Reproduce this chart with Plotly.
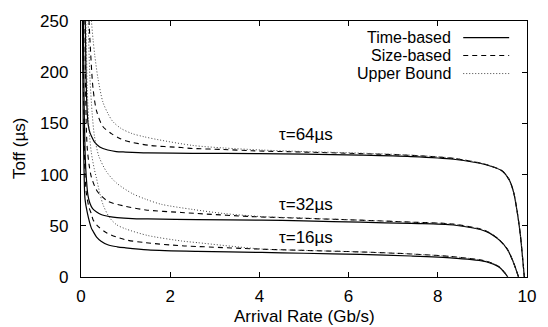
import plotly.graph_objects as go

# Arrival rate (Gb/s) samples and Toff (µs) for each coalescing scheme and tau
rate_t64_time = [0.09, 0.11, 0.13, 0.16, 0.2, 0.24, 0.3, 0.42, 0.6, 0.79, 1.0, 1.5, 2.5, 4.0, 5.0, 6.26, 7.4, 8.35, 9.08, 9.45, 9.6, 9.7, 9.78, 9.85, 9.9, 9.94]
toff_t64_time = [270, 205, 170, 149, 141, 137, 132, 127, 124, 122.5, 122, 121.2, 120.8, 120.5, 120, 119, 117.6, 115, 109.6, 103.3, 95, 82.7, 63.7, 41.5, 19.3, 0]

rate_t32_time = [0.05, 0.07, 0.09, 0.11, 0.155, 0.2, 0.26, 0.35, 0.45, 0.64, 0.81, 1.15, 1.5, 2.6, 4.05, 5.0, 6.26, 7.4, 8.35, 9.08, 9.38, 9.56, 9.67, 9.76, 9.81]
toff_t32_time = [260, 170, 125, 103, 80, 72, 66.8, 63.5, 61, 59, 58, 57, 56.7, 56, 55.5, 54.8, 53.5, 52.3, 50.8, 44.5, 36, 27, 17, 6.5, 0]

rate_t16_time = [0.03, 0.05, 0.07, 0.09, 0.14, 0.23, 0.27, 0.35, 0.45, 0.6, 0.81, 1.0, 1.5, 2.6, 4.05, 5.0, 6.26, 7.4, 8.35, 9.08, 9.38, 9.5, 9.57]
toff_t16_time = [260, 150, 100, 76, 63, 48, 44.7, 39, 35, 31.5, 29.5, 28.5, 26.5, 25, 24, 23.2, 22, 20.5, 18.5, 15, 9.5, 4, 0]

rate_t64_size = [0.17, 0.2, 0.27, 0.35, 0.49, 0.68, 0.86, 1.0, 1.52, 2.25, 2.51, 3.2, 3.83, 5.0, 6.26, 7.4, 8.35, 9.08, 9.45, 9.6, 9.7, 9.78, 9.85, 9.9, 9.94]
toff_t64_size = [260, 232, 184, 162, 147, 140, 135.5, 133, 128.6, 126.4, 125.5, 124.5, 123.3, 122, 120.5, 118.8, 115.8, 109.9, 103.4, 95.1, 82.8, 63.8, 41.5, 19.3, 0]

rate_t32_size = [0.085, 0.1, 0.12, 0.14, 0.18, 0.23, 0.36, 0.6, 1.0, 1.45, 2.25, 2.6, 3.83, 5.0, 6.26, 7.4, 8.35, 9.08, 9.38, 9.56, 9.67, 9.76, 9.81]
toff_t32_size = [260, 190, 145, 126, 110, 98, 84, 74, 69, 65.5, 63, 62, 59, 57.3, 55.5, 53.6, 51.6, 45, 36.3, 27.1, 17.1, 6.5, 0]

rate_t16_size = [0.045, 0.06, 0.075, 0.09, 0.12, 0.18, 0.23, 0.27, 0.37, 0.58, 0.98, 1.45, 2.25, 2.6, 4.05, 5.0, 6.26, 7.4, 8.35, 9.08, 9.38, 9.5, 9.57]
toff_t16_size = [260, 170, 125, 100, 82, 68, 62, 56, 50, 43, 36.5, 33.5, 30.5, 29.8, 27.2, 26, 24.5, 22.5, 19.8, 15.5, 9.8, 4.2, 0]

rate_t64_bound = [0.22, 0.235, 0.27, 0.31, 0.38, 0.49, 0.6, 0.71, 0.9, 1.15, 1.41, 1.74, 2.5, 3.2, 4.05, 5.0, 6.26, 7.4, 8.35, 9.08, 9.45, 9.6, 9.7, 9.78, 9.85, 9.9, 9.94]
toff_t64_bound = [262, 250, 232, 216, 194, 171, 160, 152, 145, 140, 137, 134, 128.5, 126, 124, 122.5, 121, 119, 116, 110, 103.5, 95.2, 83, 64, 41.5, 19.3, 0]

rate_t32_bound = [0.15, 0.16, 0.2, 0.25, 0.3, 0.4, 0.57, 0.79, 1.15, 1.45, 1.8, 2.5, 3.2, 4.05, 5.0, 6.26, 7.4, 8.35, 9.08, 9.38, 9.56, 9.67, 9.76, 9.81]
toff_t32_bound = [265, 250, 195, 160, 138, 118, 103, 92, 81.5, 76, 71, 66, 62, 59, 57.5, 55.5, 53.5, 51.5, 45, 36.5, 27, 17, 6.5, 0]

rate_t16_bound = [0.1, 0.11, 0.14, 0.18, 0.23, 0.3, 0.35, 0.42, 0.5, 0.64, 0.8, 1.0, 1.5, 2.25, 2.6, 4.05, 5.0, 6.26, 7.4, 8.35, 9.08, 9.38, 9.5, 9.57]
toff_t16_bound = [270, 250, 185, 145, 122, 105, 96, 82, 70, 58, 51, 47, 40.5, 35.2, 33.6, 27.3, 26, 24.5, 22.5, 19.8, 15.5, 9.8, 4.2, 0]

tau_labels = ["τ=64µs", "τ=32µs", "τ=16µs"]
tau_label_x = [5.05, 5.05, 5.05]
tau_label_y = [139, 71, 39]

legend_names = ["Time-based", "Size-based", "Upper Bound"]

x_ticks = [0, 2, 4, 6, 8, 10]
y_ticks = [0, 50, 100, 150, 200, 250]

FONT = "Liberation Sans, Arial, Helvetica, sans-serif"
FS = 17
KEY_FS = 16
styles = {
    "Time-based": dict(color="black", width=1.2, dash="solid"),
    "Size-based": dict(color="black", width=1.1, dash="5px,4px"),
    "Upper Bound": dict(color="#444444", width=1.0, dash="1px,2px"),
}

series = [
    ("Time-based", rate_t64_time, toff_t64_time),
    ("Time-based", rate_t32_time, toff_t32_time),
    ("Time-based", rate_t16_time, toff_t16_time),
    ("Size-based", rate_t64_size, toff_t64_size),
    ("Size-based", rate_t32_size, toff_t32_size),
    ("Size-based", rate_t16_size, toff_t16_size),
    ("Upper Bound", rate_t64_bound, toff_t64_bound),
    ("Upper Bound", rate_t32_bound, toff_t32_bound),
    ("Upper Bound", rate_t16_bound, toff_t16_bound),
]

fig = go.Figure()
for name, xs, ys in series:
    fig.add_trace(go.Scatter(
        x=xs, y=ys, mode="lines", name=name, showlegend=False,
        line=dict(shape="spline", smoothing=0.8, **styles[name]),
    ))

# curve group labels
for txt, lx, ly in zip(tau_labels, tau_label_x, tau_label_y):
    fig.add_annotation(x=lx, y=ly, text=txt, showarrow=False,
                       font=dict(family=FONT, size=FS, color="black"))

# key: text right-aligned with line sample on its right
key_rows = [0.9354, 0.865, 0.7947]
for name, ky in zip(legend_names, key_rows):
    fig.add_annotation(xref="paper", yref="paper", x=0.8326, y=ky, text=name,
                       xanchor="right", yanchor="middle", showarrow=False,
                       borderpad=0,
                       font=dict(family=FONT, size=KEY_FS, color="black"))
    st = styles[name]
    fig.add_shape(type="line", xref="paper", yref="paper",
                  x0=0.857, x1=0.960, y0=ky, y1=ky,
                  line=dict(color=st["color"], width=st["width"], dash=st["dash"]))

# axis titles
fig.add_annotation(xref="paper", yref="paper", x=0.5, y=0, yshift=-39,
                   text="Arrival Rate (Gb/s)", showarrow=False,
                   xanchor="center", yanchor="middle",
                   font=dict(family=FONT, size=FS, color="black"))
fig.add_annotation(xref="paper", yref="paper", x=0, y=0.5, xshift=-62,
                   text="Toff (µs)", showarrow=False, textangle=-90,
                   xanchor="center", yanchor="middle",
                   font=dict(family=FONT, size=FS, color="black"))

axis_common = dict(
    showgrid=False, zeroline=False, showline=True, linecolor="black",
    linewidth=1.3, mirror="allticks", ticks="inside", ticklen=5,
    tickwidth=1, tickcolor="black",
    tickfont=dict(family=FONT, size=FS, color="black"),
)
fig.update_xaxes(range=[0, 10], tickvals=x_ticks, ticklabelstandoff=3, **axis_common)
fig.update_yaxes(range=[0, 250], tickvals=y_ticks, ticklabelstandoff=8, **axis_common)

fig.update_layout(
    width=548, height=327,
    margin=dict(l=81, r=13, t=14, b=50),
    plot_bgcolor="white", paper_bgcolor="white",
    showlegend=False,
)

fig.write_html("out.html")
